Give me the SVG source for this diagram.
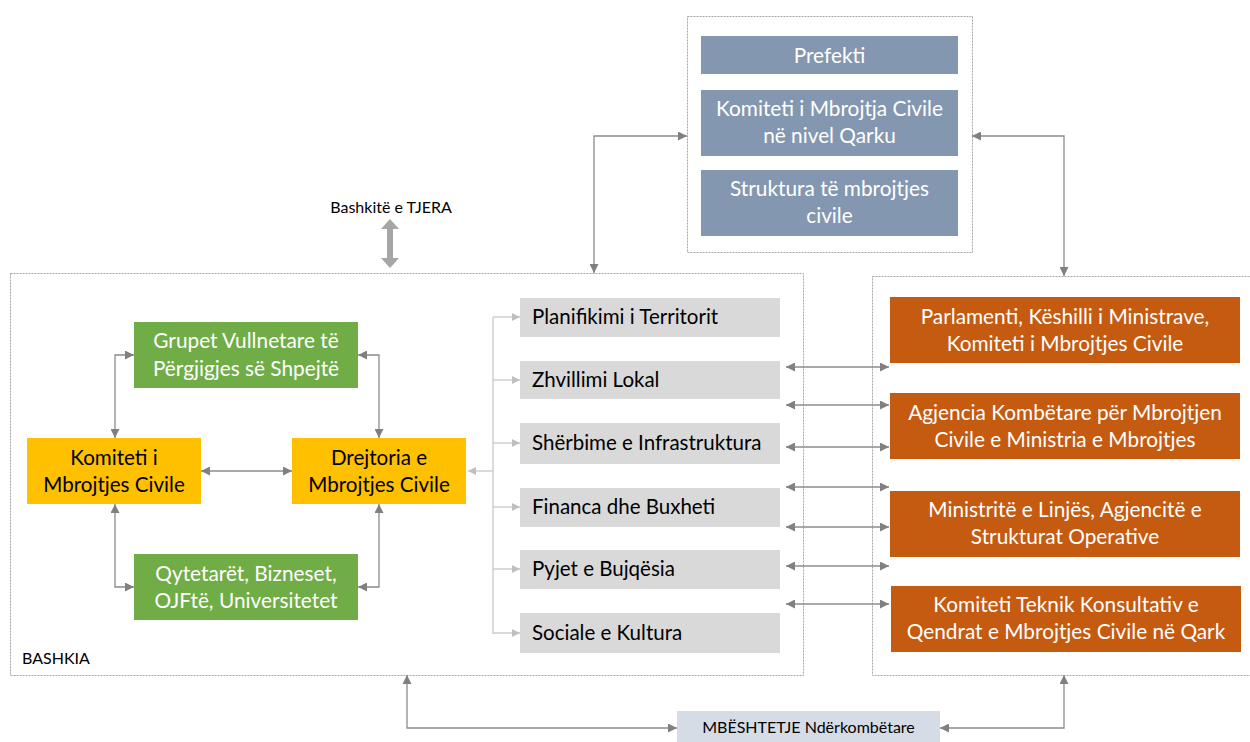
<svg xmlns="http://www.w3.org/2000/svg" width="1250" height="742" viewBox="0 0 1250 742">
<defs>
<marker id="ah" viewBox="0 0 10 10" refX="10" refY="5" markerWidth="9" markerHeight="9" markerUnits="userSpaceOnUse" orient="auto-start-reverse"><path d="M0,0 L10,5 L0,10 z" fill="#808080"/></marker>
<marker id="ahl" viewBox="0 0 10 10" refX="10" refY="5" markerWidth="8" markerHeight="8" markerUnits="userSpaceOnUse" orient="auto-start-reverse"><path d="M0,0 L10,5 L0,10 z" fill="#BFBFBF"/></marker>
<style>
text{font-family:Lato,"Open Sans","Liberation Sans",sans-serif;}
.dash{fill:none;stroke:#A6A6A6;stroke-width:1;stroke-dasharray:2 1;}
.slate{fill:#8497B0;}
.green{fill:#70AD47;}
.yellow{fill:#FFC000;}
.orange{fill:#C55A11;}
.grey{fill:#D9D9D9;}
.wt{fill:#FFFFFF;font-size:20.8px;text-anchor:middle;}
.bt{fill:#000000;font-size:20.6px;text-anchor:middle;}
.lt{fill:#000000;font-size:20.5px;}
.lab{fill:#000000;font-size:16px;}
.c{fill:none;stroke:#8C8C8C;stroke-width:1.3;marker-start:url(#ah);marker-end:url(#ah);}
.cl{fill:none;stroke:#C8C8C8;stroke-width:1.3;}
</style>
</defs>
<g id="containers">
<rect class="dash" x="687.5" y="16.5" width="285" height="236"/>
<rect class="dash" x="10.5" y="273.5" width="793" height="402"/>
<rect class="dash" x="872.5" y="276.5" width="380" height="399"/>
<text class="lab" x="22" y="664">BASHKIA</text>
</g>
<g id="qarku">
<g id="prefekti"><rect class="slate" x="701" y="36" width="257" height="38"/><text class="wt" x="829.5" y="63">Prefekti</text></g>
<g id="komiteti-qarku"><rect class="slate" x="701" y="90" width="257" height="66"/><text class="wt" x="829.5" y="116">Komiteti i Mbrojtja Civile</text><text class="wt" x="829.5" y="143">në nivel Qarku</text></g>
<g id="struktura"><rect class="slate" x="701" y="170" width="257" height="66"/><text class="wt" x="829.5" y="196">Struktura të mbrojtjes</text><text class="wt" x="829.5" y="223">civile</text></g>
</g>
<g id="bashkite-tjera"><text class="lab" x="391" y="213" text-anchor="middle" font-size="17">Bashkitë e TJERA</text>
<path d="M390,219 L399,229 L393,229 L393,258 L399,258 L390,268 L381,258 L387,258 L387,229 L381,229 z" fill="#A6A6A6"/></g>
<g id="grupet"><rect class="green" x="134" y="322" width="224" height="66"/><text class="wt" x="246" y="348">Grupet Vullnetare të</text><text class="wt" x="246" y="376">Përgjigjes së Shpejtë</text></g>
<g id="komiteti"><rect class="yellow" x="27" y="438" width="174" height="66"/><text class="bt" x="114" y="465">Komiteti i</text><text class="bt" x="114" y="492">Mbrojtjes Civile</text></g>
<g id="drejtoria"><rect class="yellow" x="292" y="438" width="174" height="66"/><text class="bt" x="379" y="465">Drejtoria e</text><text class="bt" x="379" y="492">Mbrojtjes Civile</text></g>
<g id="qytetaret"><rect class="green" x="134" y="554" width="224" height="66"/><text class="wt" x="246" y="581">Qytetarët, Bizneset,</text><text class="wt" x="246" y="608">OJFtë, Universitetet</text></g>
<g id="planifikimi"><rect class="grey" x="520" y="298" width="260" height="39"/><text class="lt" x="532" y="324">Planifikimi i Territorit</text></g>
<g id="zhvillimi"><rect class="grey" x="520" y="361" width="260" height="38"/><text class="lt" x="532" y="387">Zhvillimi Lokal</text></g>
<g id="sherbime"><rect class="grey" x="520" y="423" width="260" height="41"/><text class="lt" x="532" y="450">Shërbime e Infrastruktura</text></g>
<g id="financa"><rect class="grey" x="520" y="488" width="260" height="39"/><text class="lt" x="532" y="514">Financa dhe Buxheti</text></g>
<g id="pyjet"><rect class="grey" x="520" y="550" width="260" height="39"/><text class="lt" x="532" y="576">Pyjet e Bujqësia</text></g>
<g id="sociale"><rect class="grey" x="520" y="613" width="260" height="40"/><text class="lt" x="532" y="640">Sociale e Kultura</text></g>
<g id="parlamenti"><rect class="orange" x="890" y="297" width="350" height="66"/><text class="wt" x="1065" y="324">Parlamenti, Këshilli i Ministrave,</text><text class="wt" x="1065" y="351">Komiteti i Mbrojtjes Civile</text></g>
<g id="agjencia"><rect class="orange" x="890" y="393" width="350" height="66"/><text class="wt" x="1065" y="420">Agjencia Kombëtare për Mbrojtjen</text><text class="wt" x="1065" y="447">Civile e Ministria e Mbrojtjes</text></g>
<g id="ministrite"><rect class="orange" x="890" y="491" width="350" height="66"/><text class="wt" x="1065" y="517">Ministritë e Linjës, Agjencitë e</text><text class="wt" x="1065" y="544">Strukturat Operative</text></g>
<g id="komiteti-teknik"><rect class="orange" x="891" y="586" width="350" height="66"/><text class="wt" x="1066" y="612">Komiteti Teknik Konsultativ e</text><text class="wt" x="1066" y="639">Qendrat e Mbrojtjes Civile në Qark</text></g>
<g id="mbeshtetje"><rect x="677" y="711" width="263" height="31" fill="#D6DCE5"/><text class="lab" x="808.5" y="733" text-anchor="middle" font-size="16.2">MBËSHTETJE Ndërkombëtare</text></g>
<g id="connectors">
<path class="c" d="M594,273 V136 H687"/>
<path class="c" d="M1064,276 V136 H972"/>
<path class="c" d="M115,438 V355 H134"/>
<path class="c" d="M358,355 H379 V438"/>
<path class="c" d="M201,471 H292"/>
<path class="c" d="M115,504 V587 H134"/>
<path class="c" d="M379,504 V587 H358"/>
<path class="c" d="M786,367 H889"/>
<path class="c" d="M786,405 H889"/>
<path class="c" d="M786,447 H889"/>
<path class="c" d="M786,487 H889"/>
<path class="c" d="M786,527 H889"/>
<path class="c" d="M786,566 H889"/>
<path class="c" d="M786,604 H889"/>
<path class="c" d="M407,675 V728 H677"/>
<path class="c" d="M1064,675 V728 H940"/>
<path class="cl" d="M493,317 V634"/>
<path class="cl" stroke-width="2.5" d="M493,471 H468" marker-end="url(#ahl)"/>
<path class="cl" d="M493,317 H520" marker-end="url(#ahl)"/>
<path class="cl" d="M493,380 H520" marker-end="url(#ahl)"/>
<path class="cl" d="M493,443 H520" marker-end="url(#ahl)"/>
<path class="cl" d="M493,507 H520" marker-end="url(#ahl)"/>
<path class="cl" d="M493,569 H520" marker-end="url(#ahl)"/>
<path class="cl" d="M493,633 H520" marker-end="url(#ahl)"/>
</g>
</svg>
